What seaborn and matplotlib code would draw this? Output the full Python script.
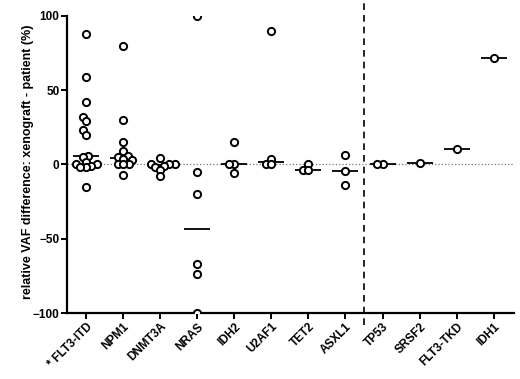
import pandas as pd
import numpy as np
import matplotlib
matplotlib.use("Agg")
import matplotlib.pyplot as plt
import seaborn as sns

genes = ["FLT3-ITD", "NPM1", "DNMT3A", "NRAS", "IDH2", "U2AF1",
         "TET2", "ASXL1", "TP53", "SRSF2", "FLT3-TKD", "IDH1"]
tick_labels = ["* FLT3-ITD", "NPM1", "DNMT3A", "NRAS", "IDH2", "U2AF1",
               "TET2", "ASXL1", "TP53", "SRSF2", "FLT3-TKD", "IDH1"]

flt3_itd = [88, 59, 42, 32, 29, 23, 20, 6, 5, 2, 0, 0, -1, -2, -2, -15]
npm1 = [80, 30, 15, 9, 6, 5, 4, 3, 0, 0, 0, -7]
dnmt3a = [4.5, 0, 0, 0, -1, -2, -3.5, -8]
nras = [100, -5, -20, -67, -74, -100]
idh2 = [15, 0, 0, -6]
u2af1 = [90, 4, 0, 0]
tet2 = [0.5, -3.5, -4]
asxl1 = [6.5, -4.5, -13.5]
tp53 = [0, 0]
srsf2 = [1.2]
flt3_tkd = [10.5]
idh1 = [72]

values = [flt3_itd, npm1, dnmt3a, nras, idh2, u2af1,
          tet2, asxl1, tp53, srsf2, flt3_tkd, idh1]

df = pd.DataFrame({
    "gene": [g for g, v in zip(genes, values) for _ in v],
    "vaf": [x for v in values for x in v],
})

plt.rcParams["font.family"] = ["Liberation Sans", "DejaVu Sans"]
plt.rcParams["font.weight"] = "bold"

fig = plt.figure(figsize=(5.2, 3.79), dpi=100)
ax = fig.add_axes([0.129, 0.174, 0.859, 0.784])

ax.axhline(0, color="#777777", ls=":", lw=0.9, zorder=0)

# swarm laid out with small markers so the circles overlap like the original
sns.swarmplot(data=df, x="gene", y="vaf", order=genes, ax=ax,
              color="white", edgecolor="black", linewidth=1.4,
              size=2.4, zorder=3)
swarms = list(ax.collections)

# median lines only
sns.boxplot(data=df, x="gene", y="vaf", order=genes, ax=ax,
            width=0.7, showbox=False, showcaps=False, showfliers=False,
            whiskerprops={"visible": False},
            medianprops={"color": "black", "linewidth": 1.3},
            zorder=2)

ax.axvline(7.5, ymin=-0.04, ymax=1.055, color="black", ls=(0, (4, 3)),
           lw=1.2, clip_on=False)

ax.set_xlim(-0.51, 11.54)
ax.set_ylim(-100, 100)
ax.set_yticks([-100, -50, 0, 50, 100])
ax.set_xticks(range(len(genes)))
ax.set_xticklabels(tick_labels, rotation=45, ha="right",
                   rotation_mode="anchor", fontsize=8.5, fontweight="bold")
for lab in ax.get_yticklabels():
    lab.set_fontweight("bold")
    lab.set_fontsize(8.5)

ax.set_xlabel("")
ax.set_ylabel("relative VAF difference: xenograft - patient (%)",
              fontsize=9, fontweight="bold")
ax.yaxis.set_label_coords(-0.073, 0.51)

for s in ["top", "right"]:
    ax.spines[s].set_visible(False)
for s in ["left", "bottom"]:
    ax.spines[s].set_linewidth(1.6)
ax.tick_params(axis="both", direction="out", length=4, width=1.4, pad=1.5)

# fix the swarm positions, then enlarge the circles
fig.canvas.draw()
for c in swarms:
    if "draw" in c.__dict__:
        del c.draw
    c.set_sizes([5.2 ** 2])

fig.savefig("out.png", dpi=100)
